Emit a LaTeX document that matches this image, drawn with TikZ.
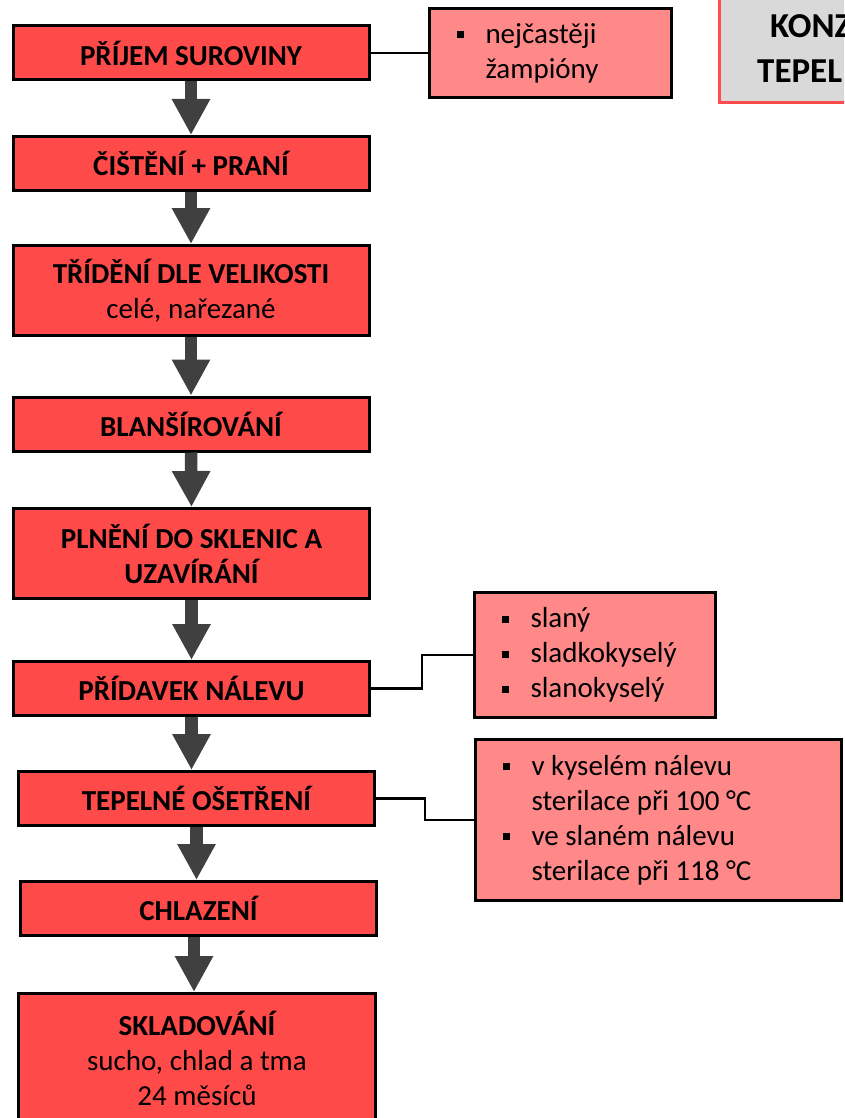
\documentclass[tikz,border=0pt]{standalone}
\usepackage{fontspec}
\setmainfont{Carlito}
\usetikzlibrary{arrows.meta,calc}
\definecolor{stepred}{HTML}{FF4A4A}
\definecolor{notered}{HTML}{FF8888}
\definecolor{arrowgrey}{HTML}{404040}
\definecolor{titlegrey}{HTML}{D9D9D9}
\definecolor{titlered}{HTML}{FF4B4B}
% square bullet followed by the hanging indent
\newcommand\blt{\makebox[29pt][l]{\raisebox{5pt}{\rule{7pt}{7pt}}}}
\newcommand\hang{\hspace*{29pt}}
\begin{document}
\begin{tikzpicture}[x=1pt,y=-1pt,
  stepbox/.style={draw=black, line width=3pt, fill=stepred,
    font=\fontsize{29}{35}\selectfont\bfseries, align=center,
    inner sep=0pt, minimum width=356pt, minimum height=54pt},
  notebox/.style={draw=black, line width=3pt, fill=notered,
    font=\fontsize{29}{35}\selectfont, align=flush left,
    inner xsep=27pt, inner ysep=0pt},
  titletext/.style={font=\fontsize{35}{44}\selectfont\bfseries, inner sep=0pt, anchor=west},
  flow/.style={draw=arrowgrey, line width=12.5pt,
    -{Triangle[width=36pt,length=36pt]}},
  link/.style={draw=black, line width=2.5pt}]
\useasboundingbox (0,0) rectangle (844,1118);
\clip (0,0) rectangle (844,1118);

% title box in the corner
\path[draw=titlered, fill=titlegrey, line width=3pt] (719.5,-10) rectangle (900,102.5);
\node[titletext] (t1) at (770,26) {KONZ};
\node[titletext] (t2) at (757,71) {TEPEL};

% process steps
\node[stepbox] (p1) at (191,53) {PŘÍJEM SUROVINY};
\node[stepbox] (p2) at (191,163.5) {ČIŠTĚNÍ + PRANÍ};
\node[stepbox, minimum height=90pt] (p3) at (191,290.5) {TŘÍDĚNÍ DLE VELIKOSTI\\\mdseries celé, nařezané};
\node[stepbox] (p4) at (191,424) {BLANŠÍROVÁNÍ};
\node[stepbox, minimum height=90pt] (p5) at (191.5,553.5) {PLNĚNÍ DO SKLENIC A\\UZAVÍRÁNÍ};
\node[stepbox] (p6) at (191.5,688.5) {PŘÍDAVEK NÁLEVU};
\node[stepbox] (p7) at (196.5,798.5) {TEPELNÉ OŠETŘENÍ};
\node[stepbox] (p8) at (198.5,908.5) {CHLAZENÍ};
\node[stepbox, minimum height=129pt, minimum width=357pt] (p9) at (197,1058) {SKLADOVÁNÍ\\\mdseries sucho, chlad a tma\\\mdseries 24 měsíců};

% side notes
\node[notebox, text width=188pt, minimum height=89pt] (sA) at (550.5,53) {\blt nejčastěji\\\hang žampióny};
\node[notebox, text width=187pt, minimum height=125pt] (sB) at (595,655) {\blt slaný\\\blt sladkokyselý\\\blt slanokyselý};
\node[notebox, text width=312pt, minimum height=161pt] (sC) at (658.5,820) {\blt v kyselém nálevu\\\hang sterilace při 100 °C\\\blt ve slaném nálevu\\\hang sterilace při 118 °C};

% flow arrows
\draw[flow] (p1.south) -- (p2.north);
\draw[flow] (p2.south) -- (p3.north);
\draw[flow] (p3.south) -- (p4.north);
\draw[flow] (p4.south) -- (p5.north);
\draw[flow] (p5.south) -- (p6.north);
\draw[flow] (p6.south) -- (p6.south |- p7.north);
\draw[flow] (p7.south) -- (p7.south |- p8.north);
\draw[flow] ($(p8.south)+(-4.5,0)$) -- ($(p8.south |- p9.north)+(-4.5,0)$);

% links to the notes
\draw[link] (p1.east) -- (sA.west);
\draw[link] (p6.east) -- ++(51,0) |- (sB.west);
\draw[link] (p7.east) -- ++(49,0) |- (sC.west);
\end{tikzpicture}
\end{document}
